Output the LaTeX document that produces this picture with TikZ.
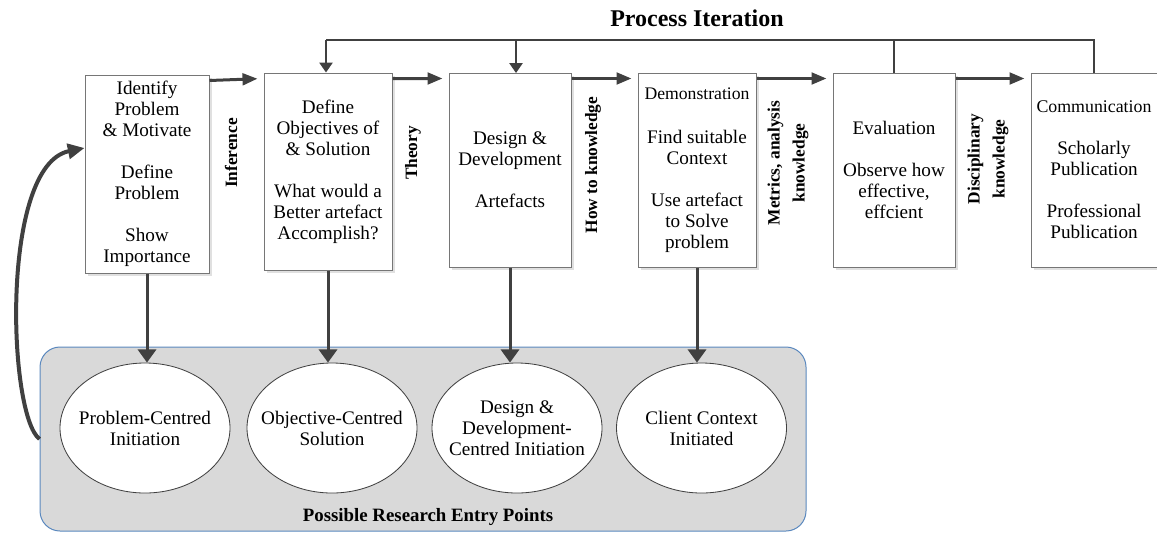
\documentclass[tikz,border=0pt]{standalone}
\usepackage{fontspec}
\setmainfont{Liberation Serif}
\usetikzlibrary{arrows.meta,shapes.geometric,shadows}
\definecolor{arrowgray}{HTML}{404040}
\definecolor{boxline}{HTML}{767676}
\definecolor{panelfill}{HTML}{D9D9D9}
\definecolor{panelline}{HTML}{5A88BE}
\newcommand{\skipline}{\\[12.6pt]}
\tikzset{
  stagebox/.style={draw=boxline, line width=0.6pt, fill=white, align=center,
    font=\fontsize{11.5}{12.6}\selectfont,
    drop shadow={shadow xshift=1.8pt, shadow yshift=-1.8pt, fill=black!12, opacity=1}},
  entry/.style={ellipse, draw=arrowgray, line width=0.5pt, fill=white,
    minimum width=102pt, minimum height=78pt, inner sep=0pt,
    label={[align=center, font=\fontsize{11.5}{12.6}\selectfont]center:#1}},
  sidelabel/.style={rotate=90, align=center, font=\fontsize{10.4}{15}\selectfont\bfseries},
  flow/.style={draw=arrowgray, line width=1.8pt, -{Triangle[length=9pt,width=7pt]}},
  drop/.style={draw=arrowgray, line width=1.8pt, -{Triangle[length=8pt,width=11pt]}},
  iter/.style={draw=arrowgray, line width=1.1pt},
  iterarrow/.style={iter, -{Triangle[length=6pt,width=8pt]}}
}
\begin{document}
\begin{tikzpicture}[x=0.6pt,y=-0.6pt]
\useasboundingbox (0,0) rectangle (1157,533);

% research entry panel
\node[draw=panelline, line width=0.6pt, fill=panelfill, rounded corners=12pt,
  minimum width=459.6pt, minimum height=110.4pt, inner sep=0pt] (panel) at (423,439) {};
\node[font=\fontsize{11.3}{13}\selectfont\bfseries] (entrytitle) at (428,517) {Possible Research Entry Points};

% stages
\node[stagebox, minimum width=74.4pt, minimum height=118.8pt] (b1) at (147,174)
  {Identify\\Problem\\\& Motivate\skipline Define\\Problem\skipline Show\\Importance};
\node[stagebox, minimum width=76.8pt, minimum height=118.2pt] (b2) at (328,171.5)
  {Define\\Objectives of\\\& Solution\skipline What would a\\Better artefact\\Accomplish?};
\node[stagebox, minimum width=73.2pt, minimum height=116.4pt] (b3) at (510,170)
  {Design \&\\Development\skipline Artefacts};
\node[stagebox, minimum width=70.8pt, minimum height=116.4pt] (b4) at (697,170)
  {{\fontsize{10.6}{12}\selectfont Demonstration}\\[14pt]Find suitable\\Context\skipline Use artefact\\to Solve\\problem};
\node[stagebox, minimum width=73.2pt, minimum height=116.4pt] (b5) at (894,170)
  {Evaluation\skipline Observe how\\effective,\\effcient};
\node[stagebox, minimum width=74.4pt, minimum height=116.4pt] (b6) at (1094,170)
  {{\fontsize{10.7}{12}\selectfont Communication}\skipline Scholarly\\Publication\skipline Professional\\Publication};

% knowledge labels
\node[sidelabel] (inference) at (231,153) {Inference};
\node[sidelabel] (theory) at (413,153) {Theory};
\node[sidelabel] (howto) at (593,165) {How to knowledge};
\node[sidelabel] (metrics) at (788,163) {Metrics, analysis\\knowledge};
\node[sidelabel] (discipl) at (988,159) {Disciplinary\\knowledge};

% entry points
\node[entry={Problem-Centred\\Initiation}] (e1) at (145,428) {};
\node[entry={Objective-Centred\\Solution}] (e2) at (332,428) {};
\node[entry={Design \&\\Development-\\Centred Initiation}] (e3) at (517,428) {};
\node[entry={Client Context\\Initiated}] (e4) at (701.5,428) {};

% process flow
\foreach \a/\b in {b1/b2,b2/b3,b3/b4,b4/b5,b5/b6}
  \draw[flow, shorten >=3.6pt] ([yshift=-3.6pt]\a.north east) -- ([yshift=-3.6pt]\b.north west);

% process iteration
\node[font=\fontsize{14.4}{16}\selectfont\bfseries] (iterlabel) at (697,18) {Process Iteration};
\coordinate (itertop) at (326,40);
\draw[iter] (b6.north) |- (itertop);
\draw[iter] (b5.north) -- (b5.north |- itertop);
\draw[iterarrow] (itertop) -- (itertop |- b2.north);
\draw[iterarrow] (516,40) -- (516,73);

% entry arrows
\foreach \s/\t in {b1/e1,b2/e2,b3/e3,b4/e4}
  \draw[drop] (\s.south) -- (\s.south |- \t.north);

% back to start
\draw[draw=arrowgray, line width=2.4pt, -{Triangle[length=10pt,width=9pt]}]
  (panel.west) .. controls (8,415) and (0,165) .. ([yshift=15.6pt]b1.west);
\end{tikzpicture}
\end{document}
